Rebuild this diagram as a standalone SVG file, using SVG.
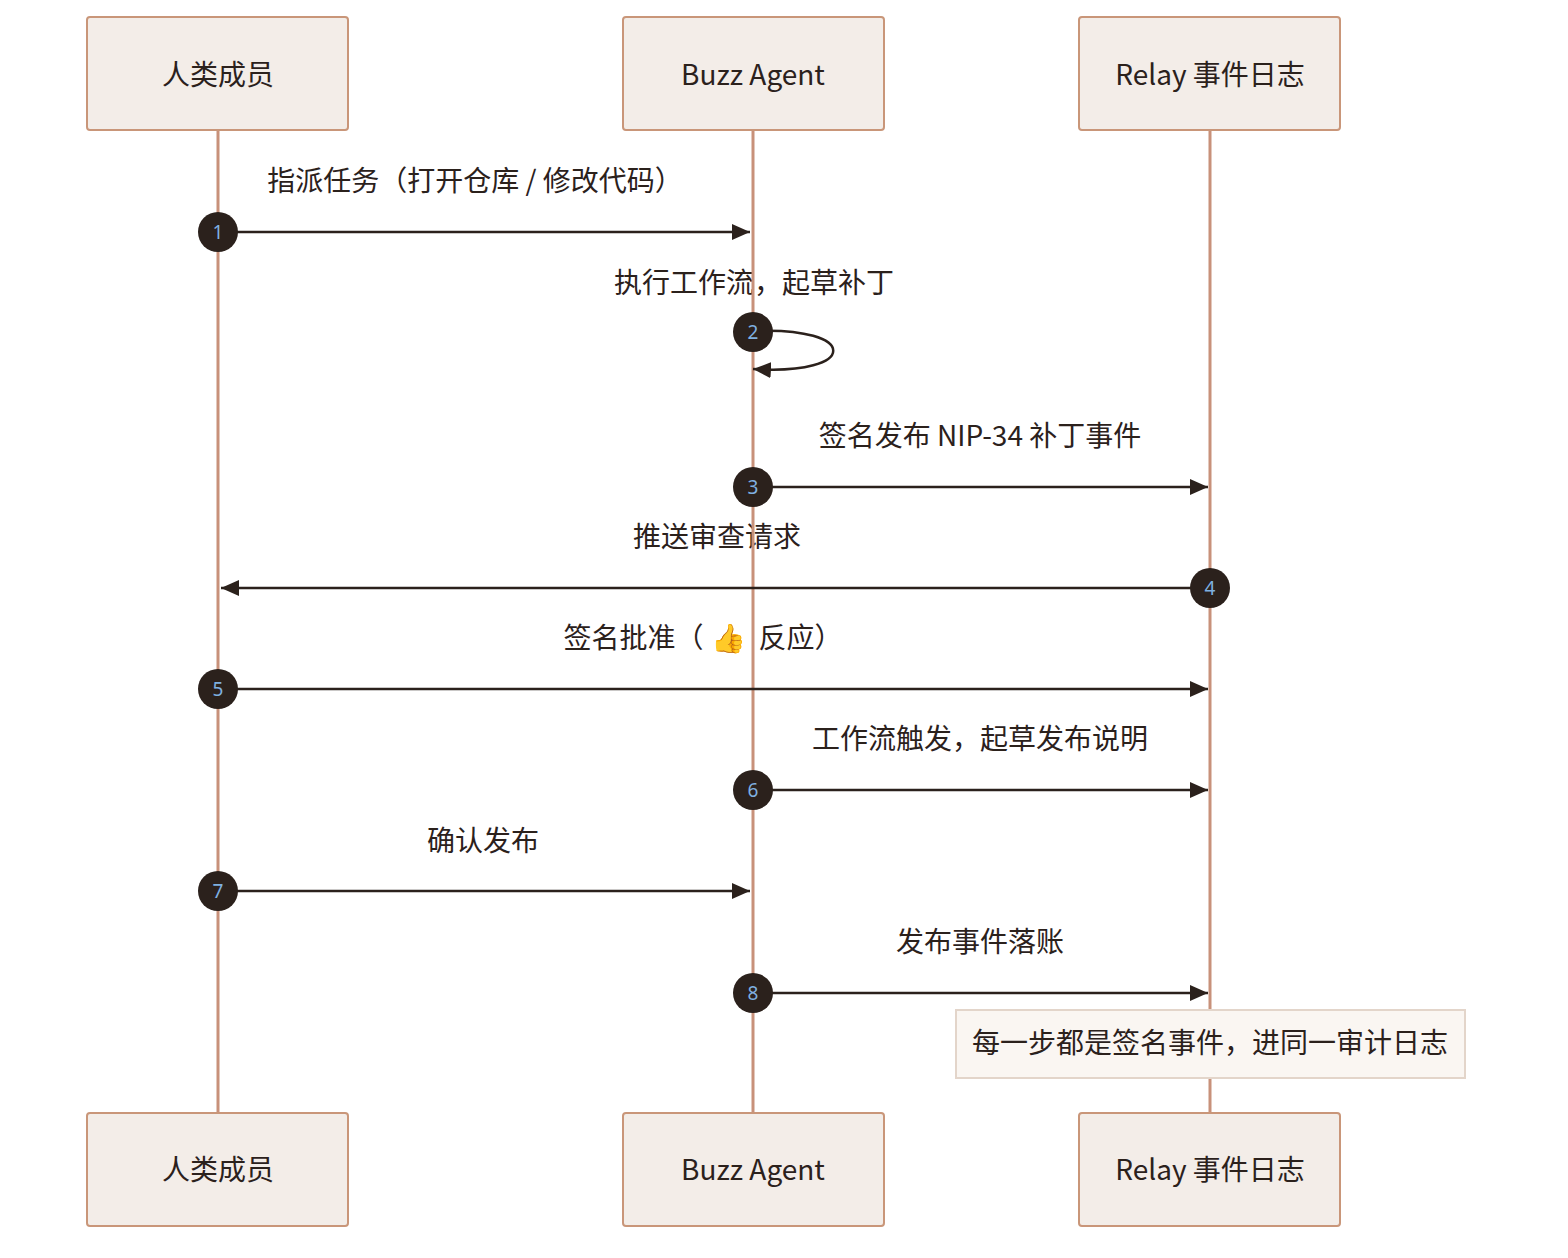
<svg xmlns="http://www.w3.org/2000/svg" width="1568" height="1258" viewBox="0 0 1568 1258">
<defs>
<marker id="ah" markerWidth="20" markerHeight="16" refX="18" refY="8" orient="auto" markerUnits="userSpaceOnUse"><path d="M0,0 L18,8 L0,16 Z" fill="#2b211c"/></marker>
<style>
.box{fill:#f3ede8;stroke:#c99679;stroke-width:2}
.bt{font-family:"Noto Sans CJK SC","Noto Sans",sans-serif;font-size:28px;fill:#2b211c;text-anchor:middle}
.lbl{font-family:"Noto Sans CJK SC","Noto Sans",sans-serif;font-size:28px;fill:#2b211c;text-anchor:middle}
.life{stroke:#c8917a;stroke-width:3}
.msg{stroke:#2b211c;stroke-width:2.5;fill:none}
.c{fill:#2b211c}
.n{font-family:"Noto Sans","DejaVu Sans",sans-serif;font-size:19px;fill:#7fb0e0;text-anchor:middle}
</style>
</defs>
<rect width="1568" height="1258" fill="#ffffff"/>
<g id="labels">
<text class="lbl" x="475" y="191">指派任务（打开仓库 / 修改代码）</text>
<text class="lbl" x="754" y="293">执行工作流，起草补丁</text>
<text class="lbl" x="980" y="446">签名发布 NIP-34 补丁事件</text>
<text class="lbl" x="717" y="547">推送审查请求</text>
<text class="lbl" x="703" y="648">签名批准（<tspan dx="8" font-family="Noto Color Emoji,sans-serif">👍</tspan><tspan dx="12">反应）</tspan></text>
<text class="lbl" x="980" y="749">工作流触发，起草发布说明</text>
<text class="lbl" x="483" y="851">确认发布</text>
<text class="lbl" x="980" y="952">发布事件落账</text>
</g>
<g id="lifelines">
<line class="life" x1="218" y1="130" x2="218" y2="1113"/>
<line class="life" x1="753" y1="130" x2="753" y2="1113"/>
<line class="life" x1="1210" y1="130" x2="1210" y2="1113"/>
</g>
<g id="connectors">
<line class="msg" x1="218" y1="232" x2="750" y2="232" marker-end="url(#ah)"/>
<path class="msg" d="M753,331 C860,326 860,376 753,369" marker-end="url(#ah)"/>
<line class="msg" x1="753" y1="487" x2="1208" y2="487" marker-end="url(#ah)"/>
<line class="msg" x1="1210" y1="588" x2="221" y2="588" marker-end="url(#ah)"/>
<line class="msg" x1="218" y1="689" x2="1208" y2="689" marker-end="url(#ah)"/>
<line class="msg" x1="753" y1="790" x2="1208" y2="790" marker-end="url(#ah)"/>
<line class="msg" x1="218" y1="891" x2="750" y2="891" marker-end="url(#ah)"/>
<line class="msg" x1="753" y1="993" x2="1208" y2="993" marker-end="url(#ah)"/>
</g>
<g id="markers">
<circle class="c" cx="218" cy="232" r="20"/><text class="n" x="218" y="239">1</text>
<circle class="c" cx="753" cy="332" r="20"/><text class="n" x="753" y="339">2</text>
<circle class="c" cx="753" cy="487" r="20"/><text class="n" x="753" y="494">3</text>
<circle class="c" cx="1210" cy="588" r="20"/><text class="n" x="1210" y="595">4</text>
<circle class="c" cx="218" cy="689" r="20"/><text class="n" x="218" y="696">5</text>
<circle class="c" cx="753" cy="790" r="20"/><text class="n" x="753" y="797">6</text>
<circle class="c" cx="218" cy="891" r="20"/><text class="n" x="218" y="898">7</text>
<circle class="c" cx="753" cy="993" r="20"/><text class="n" x="753" y="1000">8</text>
</g>
<g id="note">
<rect x="956" y="1010" width="509" height="68" fill="#faf6f2" stroke="#e3d5ca" stroke-width="2"/>
<text class="lbl" x="1210" y="1053">每一步都是签名事件，进同一审计日志</text>
</g>
<g id="human-top"><rect class="box" x="87" y="17" width="261" height="113" rx="3"/><text class="bt" x="218" y="85">人类成员</text></g>
<g id="agent-top"><rect class="box" x="623" y="17" width="261" height="113" rx="3"/><text class="bt" x="753" y="85">Buzz Agent</text></g>
<g id="relay-top"><rect class="box" x="1079" y="17" width="261" height="113" rx="3"/><text class="bt" x="1210" y="85">Relay 事件日志</text></g>
<g id="human-bottom"><rect class="box" x="87" y="1113" width="261" height="113" rx="3"/><text class="bt" x="218" y="1180">人类成员</text></g>
<g id="agent-bottom"><rect class="box" x="623" y="1113" width="261" height="113" rx="3"/><text class="bt" x="753" y="1180">Buzz Agent</text></g>
<g id="relay-bottom"><rect class="box" x="1079" y="1113" width="261" height="113" rx="3"/><text class="bt" x="1210" y="1180">Relay 事件日志</text></g>
</svg>
